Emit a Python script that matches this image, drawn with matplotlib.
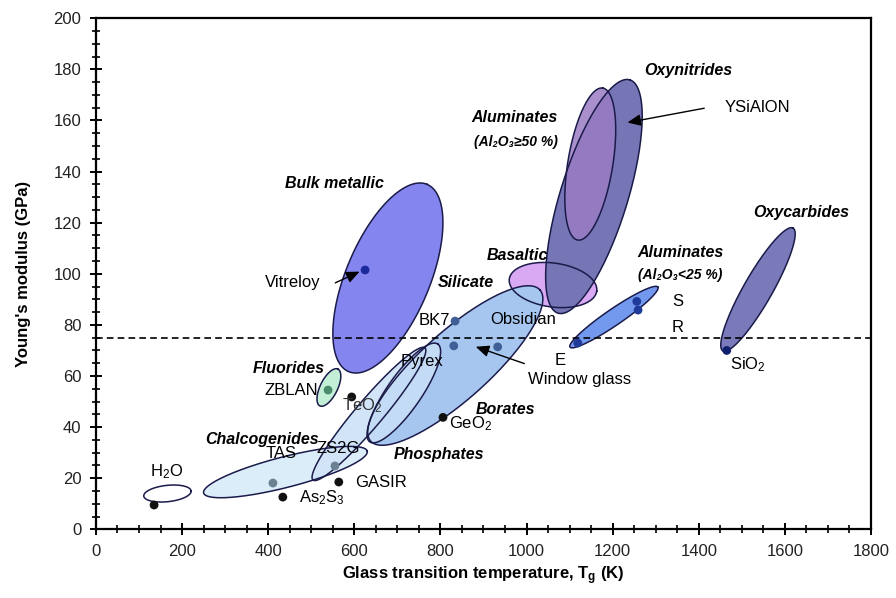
import numpy as np
import matplotlib
matplotlib.use("Agg")
import matplotlib.pyplot as plt
from matplotlib.ticker import MultipleLocator

# ---------------- data ----------------
# glass families: ellipses defined by the two ends of the long axis (Tg [K], E [GPa])
# and the half-thickness (expressed in GPa units)
fam_names = ["H2O", "Chalcogenides", "Bulk metallic", "Basaltic", "Silicate",
             "Pyrex", "Phosphates", "Fluorides", "Oxynitrides", "Aluminates50",
             "Aluminates25", "Oxycarbides"]
fam_x1 = [111, 250, 587, 960, 638, 636, 504, 520, 1073, 1119, 1101, 1456]
fam_y1 = [13.0, 14.2, 61.7, 98.0, 34.5, 34.2, 19.3, 48.3, 84.6, 113.2, 71.3, 69.8]
fam_x2 = [221, 630, 769, 1163, 1031, 794, 764, 562, 1240, 1177, 1305, 1619]
fam_y2 = [15.0, 30.6, 135.0, 93.2, 93.7, 72.5, 71.0, 62.7, 175.9, 172.7, 94.8, 117.9]
fam_half = [3.2, 6.0, 16.4, 8.6, 13.3, 6.7, 5.3, 3.4, 13.2, 8.8, 3.2, 5.6]

# individual glasses (Tg [K], E [GPa])
glass_names = ["H2O", "As2S3", "GASIR", "TAS", "ZS2G", "ZBLAN", "TeO2", "GeO2",
               "BK7", "Window glass 1", "Window glass 2", "Vitreloy", "E", "S", "R", "SiO2"]
glass_tg = [135, 434, 564, 411, 555, 539, 594, 806, 834, 831, 933, 625, 1119, 1256, 1259, 1465]
glass_e = [9.5, 12.6, 18.5, 18.1, 24.8, 54.5, 51.8, 43.8, 81.5, 71.8, 71.4, 101.5, 72.9, 89.2, 85.8, 70.0]

threshold_e = 75

x_ticks = [0, 200, 400, 600, 800, 1000, 1200, 1400, 1600, 1800]
y_ticks = [0, 20, 40, 60, 80, 100, 120, 140, 160, 180, 200]

# ---------------- style ----------------
fam_colors = {"H2O": "#ffffff", "Chalcogenides": "#dcedfa", "Bulk metallic": "#8585f0",
              "Basaltic": "#d9a9f3", "Silicate": "#a6c6f0", "Pyrex": "#c4dbf5",
              "Phosphates": "#d2e4f8", "Fluorides": "#c2efd6", "Oxynitrides": "#7676b6",
              "Aluminates50": "#9a7cc4", "Aluminates25": "#7399ee", "Oxycarbides": "#7a7aba"}
glass_colors = ["#111111", "#111111", "#111111", "#6c8292", "#6c8292", "#4a8c6c",
                "#111111", "#111111", "#3f5f96", "#3f5f96", "#3f5f96", "#1c2a9c",
                "#1f3a98", "#1f3a98", "#1f3a98", "#10206e"]

plt.rcParams["font.family"] = ["Liberation Sans", "DejaVu Sans"]
plt.rcParams["mathtext.fontset"] = "custom"
plt.rcParams["mathtext.rm"] = "Liberation Sans"
plt.rcParams["mathtext.it"] = "Liberation Sans:italic"
plt.rcParams["mathtext.bf"] = "Liberation Sans:bold"

fig = plt.figure(figsize=(8.96, 5.98), dpi=100)
ax = fig.add_axes([0.1071, 0.1149, 0.865, 0.8545])
ax.set_xlim(0, 1800)
ax.set_ylim(0, 200)


def ellipse_pts(x1, y1, x2, y2, half):
    T = ax.transData
    p1 = T.transform((x1, y1))
    p2 = T.transform((x2, y2))
    c = (p1 + p2) / 2
    d = p2 - p1
    a = np.hypot(d[0], d[1]) / 2
    u = d / (2 * a)
    v = np.array([-u[1], u[0]])
    b = T.transform((0, half))[1] - T.transform((0, 0))[1]
    t = np.linspace(0, 2 * np.pi, 300)
    pts = c + np.outer(a * np.cos(t), u) + np.outer(b * np.sin(t), v)
    return T.inverted().transform(pts)


order = ["Chalcogenides", "H2O", "Bulk metallic", "Basaltic", "Silicate", "Phosphates",
         "Pyrex", "Fluorides", "Oxynitrides", "Aluminates50", "Aluminates25", "Oxycarbides"]
shapes = {}
for i, n in enumerate(fam_names):
    shapes[n] = ellipse_pts(fam_x1[i], fam_y1[i], fam_x2[i], fam_y2[i], fam_half[i])
for k, n in enumerate(order):
    p = shapes[n]
    alpha = 0.85 if n in ("Aluminates50",) else 1.0
    ax.fill(p[:, 0], p[:, 1], color=fam_colors[n], alpha=alpha, lw=0, zorder=2 + k * 0.01)
for n in order:
    p = shapes[n]
    ax.plot(p[:, 0], p[:, 1], color="#1b1b4a", lw=1.1, zorder=3)

# dashed threshold
ax.axhline(threshold_e, color="black", lw=1.2, ls=(0, (4, 2.5)), zorder=3.5)

# points
ax.scatter(glass_tg, glass_e, s=40, c=glass_colors, zorder=5, linewidths=0)

# ---------------- labels ----------------
bi = dict(fontweight="bold", fontstyle="italic", fontsize=11.5, ha="center", va="center", zorder=6)
sub = dict(fontweight="bold", fontstyle="italic", fontsize=10, ha="center", va="center", zorder=6)
nl = dict(fontsize=12, ha="center", va="center", zorder=6)

ax.text(555, 135.4, "Bulk metallic", **bi)
ax.text(973, 161, "Aluminates", **bi)
ax.text(975, 151.5, "(Al₂O₃≥50 %)", **sub)
ax.text(1375, 179.5, "Oxynitrides", **bi)
ax.text(1637, 124, "Oxycarbides", **bi)
ax.text(978, 107, "Basaltic", **bi)
ax.text(859, 96.4, "Silicate", **bi)
ax.text(1358, 108.5, "Aluminates", **bi)
ax.text(1358, 99.5, "(Al₂O₃<25 %)", **sub)
ax.text(448, 63, "Fluorides", **bi)
ax.text(950, 46.7, "Borates", **bi)
ax.text(797, 29.1, "Phosphates", **bi)
ax.text(386, 35.3, "Chalcogenides", **bi)

ax.text(1537, 164.9, "YSiAlON", **nl)
ax.text(457, 96.4, "Vitreloy", **nl)
ax.text(785, 81.9, "BK7", **nl)
ax.text(992, 82, "Obsidian", **nl)
ax.text(1077, 66.2, "E", **nl)
ax.text(1124, 58.8, "Window glass", **nl)
ax.text(1352, 89, "S", **nl)
ax.text(1352, 79, "R", **nl)
ax.text(1515, 64.3, "SiO$_2$", **nl)
ax.text(757, 65.5, "Pyrex", **nl)
ax.text(453, 54.5, "ZBLAN", **nl)
ax.text(618, 48.5, "TeO$_2$", color="#333333", **nl)
ax.text(871, 41.4, "GeO$_2$", **nl)
ax.text(430, 29.5, "TAS", **nl)
ax.text(562, 31.8, "ZS2G", **nl)
ax.text(663, 18.5, "GASIR", **nl)
ax.text(525, 12.3, "As$_2$S$_3$", **nl)
ax.text(165, 22.4, "H$_2$O", **nl)

arr = dict(arrowstyle="-|>,head_length=0.8,head_width=0.35", color="black", lw=1.0)
ax.annotate("", xy=(1228, 159), xytext=(1419, 165), arrowprops=arr, zorder=7)
ax.annotate("", xy=(876, 71.8), xytext=(1001, 64.5), arrowprops=arr, zorder=7)
ax.annotate("", xy=(618, 101.3), xytext=(550, 96), arrowprops=arr, zorder=7)

# ---------------- axes ----------------
ax.set_xticks(x_ticks)
ax.set_yticks(y_ticks)
ax.xaxis.set_minor_locator(MultipleLocator(50))
ax.yaxis.set_minor_locator(MultipleLocator(5))
ax.tick_params(which="major", direction="inout", length=9, width=1.4, labelsize=12,
               colors="black", pad=6)
ax.tick_params(which="minor", direction="inout", length=6, width=1.2)
ax.tick_params(axis="x", which="both", top=False)
ax.tick_params(axis="y", which="both", right=False)
for tl in ax.get_xticklabels() + ax.get_yticklabels():
    tl.set_color("#222222")
for s in ax.spines.values():
    s.set_linewidth(1.6)

ax.set_xlabel(r"Glass transition temperature, $\mathbf{T_g}$ (K)", fontsize=12,
              fontweight="bold", labelpad=4)
ax.set_ylabel("Young's modulus (GPa)", fontsize=12, fontweight="bold", labelpad=16)

fig.savefig("out.png", dpi=100)
